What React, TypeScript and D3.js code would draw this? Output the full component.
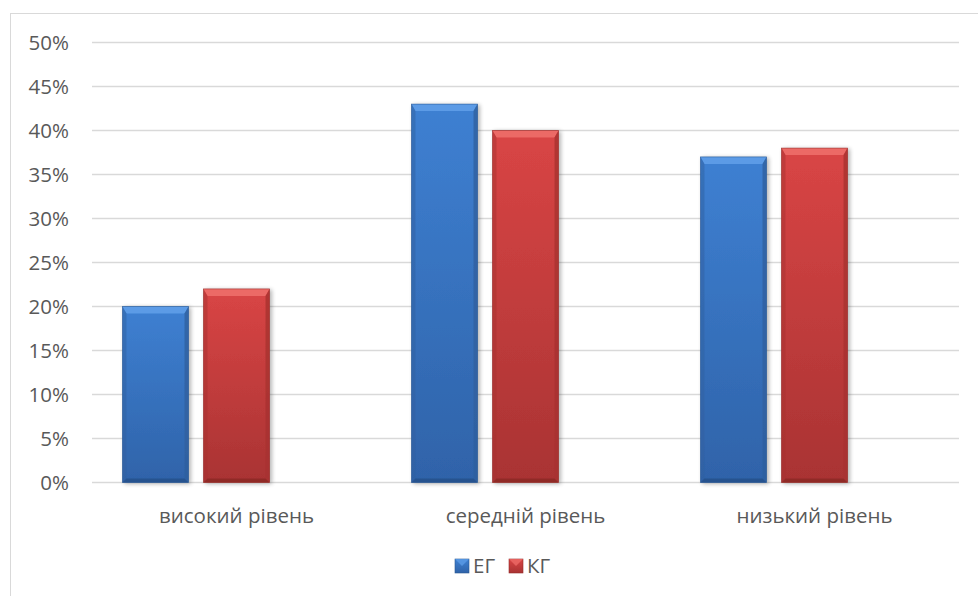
import React from "react";
import * as d3 from "d3";

const categories = ["високий рівень", "середній рівень", "низький рівень"];
const seriesNames = ["ЕГ", "КГ"];
const egValues = [20, 43, 37];
const kgValues = [22, 40, 38];
const yTicks = [0, 5, 10, 15, 20, 25, 30, 35, 40, 45, 50];

const W = 978;
const H = 596;
const FONT = "'Open Sans', 'Noto Sans', sans-serif";
const FS = 20.5;

const palettes = [
  { top: "#5b9be6", main1: "#3e80d2", main2: "#2f63a9", side: "#30609f", bottom: "#264f88", edge: "#2a5791" },
  { top: "#ec6a66", main1: "#d94545", main2: "#a93333", side: "#a83230", bottom: "#8a2826", edge: "#952d2b" },
];

export default function App() {
  const x = d3.scaleBand<string>().domain(categories).range([92, 959]).paddingInner(0).paddingOuter(0);
  const x1 = d3
    .scaleBand<number>()
    .domain([0, 1, 2])
    .range([0, x.bandwidth()])
    .paddingInner(0.185)
    .paddingOuter(0.376);
  const y = d3.scaleLinear().domain([0, 50]).range([482.5, 42.5]);
  const series = [egValues, kgValues];

  const bw = x1.bandwidth();
  const bev = 7;
  const sideB = 4;

  return (
    <div style={{ position: "absolute", left: 0, top: 0 }}>
      <svg width={W} height={H} style={{ display: "block" }}>
        <defs>
          {palettes.map((p, i) => (
            <linearGradient key={i} id={`g${i}`} x1="0" y1="0" x2="0" y2="1">
              <stop offset="0%" stopColor={p.main1} />
              <stop offset="100%" stopColor={p.main2} />
            </linearGradient>
          ))}
          {palettes.map((p, i) => (
            <linearGradient key={`t${i}`} id={`t${i}`} x1="0" y1="0" x2="0" y2="1">
              <stop offset="0%" stopColor={p.top} />
              <stop offset="100%" stopColor={p.main1} />
            </linearGradient>
          ))}
          <filter id="sh" x="-20%" y="-20%" width="140%" height="140%">
            <feGaussianBlur in="SourceAlpha" stdDeviation="2" />
            <feOffset dx="2" dy="1" result="b" />
            <feComponentTransfer>
              <feFuncA type="linear" slope="0.3" />
            </feComponentTransfer>
            <feMerge>
              <feMergeNode />
              <feMergeNode in="SourceGraphic" />
            </feMerge>
          </filter>
        </defs>
        <rect x={0} y={0} width={W} height={H} fill="#ffffff" />
        <rect x={10.5} y={13.5} width={W + 20} height={H + 20} fill="#ffffff" stroke="#d9d9d9" strokeWidth={1} />

        {yTicks.map((t) => (
          <g key={t}>
            <line x1={92} x2={959} y1={y(t)} y2={y(t)} stroke="#d9d9d9" strokeWidth={1.3} />
            <text
              x={69}
              y={y(t)}
              dy="0.35em"
              textAnchor="end"
              fontFamily={FONT}
              fontSize={FS}
              fill="#595959"
            >
              {t}%
            </text>
          </g>
        ))}

        {categories.map((c, ci) => (
          <g key={c}>
            {series.map((vals, si) => {
              const p = palettes[si];
              const x0 = (x(c) as number) + (x1(si) as number);
              const y0 = y(vals[ci]);
              const y1 = y(0);
              const x2 = x0 + bw;
              return (
                <g key={si} filter="url(#sh)">
                  <rect x={x0} y={y0} width={bw} height={y1 - y0} fill={`url(#g${si})`} />
                  <polygon
                    points={`${x0},${y0} ${x2},${y0} ${x2 - sideB},${y0 + bev} ${x0 + sideB},${y0 + bev}`}
                    fill={p.top}
                  />
                  <polygon
                    points={`${x0},${y0} ${x0 + sideB},${y0 + bev} ${x0 + sideB},${y1 - sideB} ${x0},${y1}`}
                    fill={p.side}
                    opacity={0.5}
                  />
                  <polygon
                    points={`${x2},${y0} ${x2 - sideB},${y0 + bev} ${x2 - sideB},${y1 - sideB} ${x2},${y1}`}
                    fill={p.side}
                    opacity={0.8}
                  />
                  <polygon
                    points={`${x0},${y1} ${x0 + sideB},${y1 - sideB} ${x2 - sideB},${y1 - sideB} ${x2},${y1}`}
                    fill={p.bottom}
                    opacity={0.8}
                  />
                  <rect x={x0} y={y0} width={bw} height={y1 - y0} fill="none" stroke={p.edge} strokeWidth={0.8} opacity={0.7} />
                </g>
              );
            })}
            <text
              x={(x(c) as number) + x.bandwidth() / 2}
              y={523}
              textAnchor="middle"
              fontFamily={FONT}
              fontSize={FS}
              fill="#595959"
            >
              {c}
            </text>
          </g>
        ))}

        {seriesNames.map((s, si) => {
          const lx = si === 0 ? 455 : 509;
          const p = palettes[si];
          return (
            <g key={s}>
              <rect x={lx} y={559} width={14} height={14} fill={`url(#g${si})`} stroke={p.edge} strokeWidth={0.6} />
              <polygon points={`${lx},${559} ${lx + 14},${559} ${lx + 7},${566}`} fill={p.top} opacity={0.8} />
              <text x={lx + 18} y={573} fontFamily={FONT} fontSize={FS} fill="#595959">
                {s}
              </text>
            </g>
          );
        })}
      </svg>
    </div>
  );
}
